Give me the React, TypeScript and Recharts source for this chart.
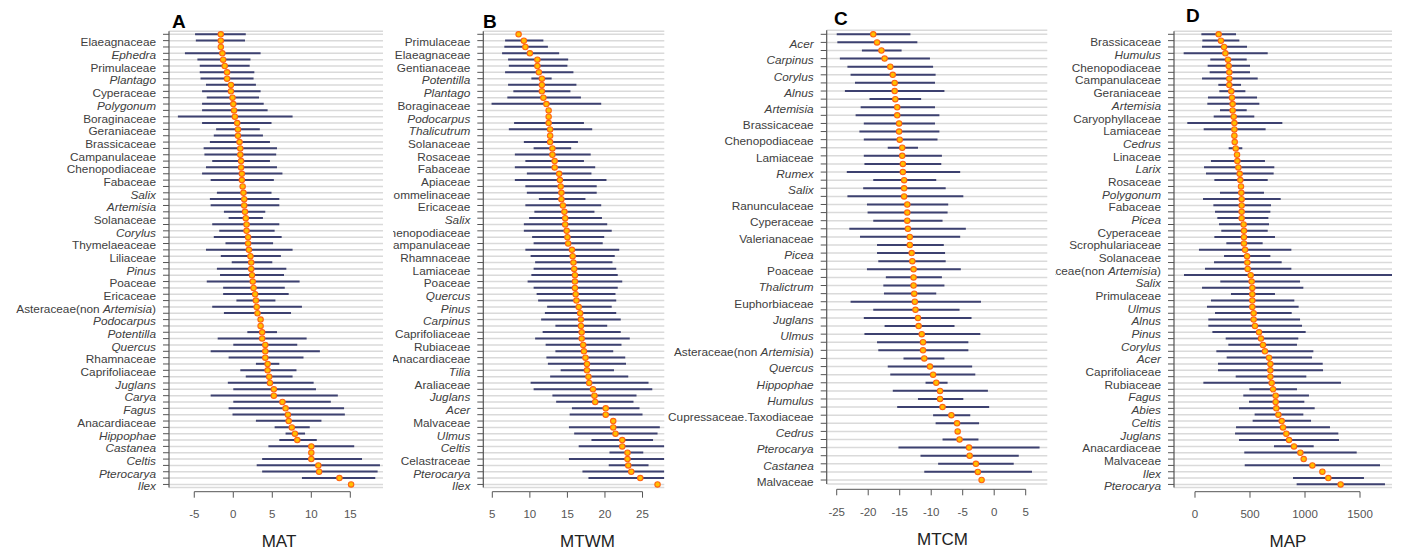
import { Bar, CartesianGrid, ComposedChart, Line, XAxis, YAxis } from 'recharts';

// Panel A: MAT
const A_NAMES = ['Elaeagnaceae', 'Ephedra', 'Primulaceae', 'Plantago', 'Cyperaceae', 'Polygonum', 'Boraginaceae', 'Geraniaceae', 'Brassicaceae', 'Campanulaceae', 'Chenopodiaceae', 'Fabaceae', 'Salix', 'Artemisia', 'Solanaceae', 'Corylus', 'Thymelaeaceae', 'Liliaceae', 'Pinus', 'Poaceae', 'Ericaceae', 'Asteraceae(non Artemisia)', 'Podocarpus', 'Potentilla', 'Quercus', 'Rhamnaceae', 'Caprifoliaceae', 'Juglans', 'Carya', 'Fagus', 'Anacardiaceae', 'Hippophae', 'Castanea', 'Celtis', 'Pterocarya', 'Ilex'];
const A_MEAN = [-1.6, -1.6, -1.6, -1.4, -1.3, -1.1, -0.8, -0.8, -0.3, -0.3, -0.1, 0.0, 0.1, 0.2, 0.5, 0.6, 0.6, 0.8, 0.9, 0.9, 1.0, 1.0, 1.1, 1.1, 1.2, 1.3, 1.4, 1.4, 1.5, 1.6, 1.7, 1.7, 1.9, 1.9, 2.0, 2.2, 2.3, 2.3, 2.4, 2.5, 2.6, 2.8, 2.9, 3.0, 3.1, 3.5, 3.5, 3.7, 3.7, 4.1, 4.1, 4.1, 4.4, 4.4, 4.6, 4.7, 5.2, 5.2, 6.3, 6.7, 7.0, 7.1, 7.5, 7.9, 8.2, 10.0, 10.0, 10.0, 10.9, 11.0, 13.6, 15.1];
const A_LOW = [-4.9, -4.8, null, -6.2, -4.6, -4.3, -4.3, -4.2, -3.5, -4.0, -3.4, -4.0, -4.0, -7.1, -4.0, -2.2, -2.5, -3.0, -3.8, -3.7, -2.7, -3.5, -4.0, -2.9, null, -2.1, -3.0, -2.9, -1.2, -0.6, -2.7, -1.8, -2.5, -1.0, -3.5, -1.6, -0.2, -2.1, -1.7, -3.4, -1.3, -1.3, 0.4, -2.7, -1.2, null, null, 1.8, -2.0, 0.0, -2.9, -0.6, 2.9, 0.9, 1.6, -0.7, 0.0, -2.9, 0.0, -0.6, -0.1, 2.9, 5.3, 6.7, 5.9, 4.5, null, 3.7, 3.0, 3.7, 8.8, null];
const A_HIGH = [1.6, 1.5, null, 3.5, 2.2, 2.1, 2.7, 2.6, 2.9, 3.5, 3.3, 3.9, 4.4, 7.6, 4.9, 3.4, 3.8, 4.7, 5.6, 5.5, 4.7, 5.6, 6.3, 5.2, null, 4.9, 5.9, 5.9, 4.1, 3.8, 5.9, 5.3, 6.2, 5.1, 7.6, 6.1, 5.0, 6.8, 6.5, 8.5, 6.6, 7.1, 5.4, 8.8, 7.4, null, null, 5.6, 9.4, 8.2, 11.1, 9.0, 5.9, 8.1, 7.6, 10.3, 10.6, 13.4, 12.5, 14.2, 14.3, 11.3, 9.8, 9.2, 10.7, 15.5, null, 16.5, 18.8, 18.5, 18.2, null];
const A_TICKS = [-5, 0, 5, 10, 15];

// Panel B: MTWM
const B_NAMES = ['Primulaceae', 'Elaeagnaceae', 'Gentianaceae', 'Potentilla', 'Plantago', 'Boraginaceae', 'Podocarpus', 'Thalicutrum', 'Solanaceae', 'Rosaceae', 'Fabaceae', 'Apiaceae', 'Commelinaceae', 'Ericaceae', 'Salix', 'Chenopodiaceae', 'Campanulaceae', 'Rhamnaceae', 'Lamiaceae', 'Poaceae', 'Quercus', 'Pinus', 'Carpinus', 'Caprifoliaceae', 'Rubiaceae', 'Anacardiaceae', 'Tilia', 'Araliaceae', 'Juglans', 'Acer', 'Malvaceae', 'Ulmus', 'Celtis', 'Celastraceae', 'Pterocarya', 'Ilex'];
const B_MEAN = [8.5, 9.2, 9.4, 10.0, 11.0, 11.0, 11.2, 11.6, 11.6, 11.6, 11.8, 12.2, 12.5, 12.5, 12.5, 12.7, 12.7, 12.7, 13.0, 13.0, 13.3, 13.3, 13.9, 14.0, 14.1, 14.2, 14.2, 14.4, 14.6, 14.7, 14.7, 14.9, 15.0, 15.1, 15.6, 15.7, 15.8, 15.9, 16.0, 16.0, 16.0, 16.1, 16.2, 16.5, 16.7, 16.8, 16.8, 16.9, 16.9, 17.1, 17.2, 17.4, 17.6, 17.6, 17.8, 17.9, 18.4, 18.6, 18.7, 20.1, 20.1, 21.1, 21.1, 21.4, 22.3, 22.3, 23.0, 23.0, 23.1, 23.5, 24.7, 27.0];
const B_LOW = [null, 6.7, 6.6, 6.3, 7.1, 7.2, 6.7, 10.2, 7.1, 7.8, 7.0, 4.9, null, null, 7.9, 7.2, null, 9.2, 10.5, 8.0, 9.4, 8.0, 9.6, 8.0, 9.4, 9.6, 11.2, 9.4, 10.6, 9.9, 9.2, 9.2, 10.3, 10.5, 9.4, 10.1, 10.7, 10.5, 10.2, 9.7, 10.5, 10.9, 11.1, 12.3, 12.0, 11.5, 13.4, 11.7, 10.7, 12.1, 13.4, 12.2, 12.4, 14.1, 12.7, 10.1, 10.5, 13.0, 13.5, 15.6, 15.3, null, 15.2, 15.9, 18.2, 16.5, 20.6, 15.2, 20.5, 17.0, 17.8, null];
const B_HIGH = [null, 11.8, 12.4, 13.9, 15.1, 15.0, 15.8, 12.9, 16.2, 15.4, 16.8, 19.5, null, null, 17.2, 18.3, null, 16.4, 15.5, 18.1, 17.2, 18.7, 18.2, 20.2, 18.9, 18.9, 17.4, 19.5, 18.6, 19.6, 20.3, 20.9, 19.9, 19.7, 21.9, 21.3, 21.0, 21.5, 21.7, 22.3, 21.7, 21.4, 21.5, 20.9, 21.5, 22.1, 20.3, 22.1, 23.3, 22.2, 21.1, 22.7, 22.8, 21.2, 23.1, 25.8, 26.3, 24.2, 23.8, 24.6, 25.0, null, 27.3, 27.0, 26.4, 28.5, 25.1, 28.5, 25.8, 28.5, 28.5, null];
const B_TICKS = [5, 10, 15, 20, 25];

// Panel C: MTCM
const C_NAMES = ['Acer', 'Carpinus', 'Corylus', 'Alnus', 'Artemisia', 'Brassicaceae', 'Chenopodiaceae', 'Lamiaceae', 'Rumex', 'Salix', 'Ranunculaceae', 'Cyperaceae', 'Valerianaceae', 'Picea', 'Poaceae', 'Thalictrum', 'Euphorbiaceae', 'Juglans', 'Ulmus', 'Asteraceae(non Artemisia)', 'Quercus', 'Hippophae', 'Humulus', 'Cupressaceae.Taxodiaceae', 'Cedrus', 'Pterocarya', 'Castanea', 'Malvaceae'];
const C_MEAN = [-19.2, -18.6, -17.9, -17.4, -16.5, -16.1, -15.8, -15.8, -15.7, -15.4, -15.4, -15.1, -15.1, -15.0, -14.6, -14.6, -14.5, -14.5, -14.3, -14.3, -14.3, -13.8, -13.8, -13.8, -13.7, -13.4, -13.4, -13.1, -13.0, -12.8, -12.8, -12.8, -12.7, -12.6, -12.5, -12.1, -12.0, -11.5, -11.3, -11.3, -11.1, -10.2, -9.7, -9.2, -8.6, -8.6, -8.2, -6.8, -5.9, -5.8, -5.5, -4.0, -3.9, -2.9, -2.6, -2.0];
const C_LOW = [-25.0, -24.9, -21.0, -24.5, -23.3, -22.8, -22.1, -23.7, -19.8, -21.2, -22.0, -20.7, -21.4, -20.7, -16.9, -20.7, -20.6, -23.4, -19.2, -20.8, -23.3, -20.2, -20.1, -19.2, -23.0, -21.3, -18.6, -18.6, -18.4, -20.2, -17.2, -17.6, -17.5, -22.8, -19.2, -20.7, -17.4, -20.6, -18.6, -18.4, -14.4, -16.9, -16.5, -10.9, -16.1, -12.1, -15.4, -9.7, -9.3, null, -8.2, -15.2, -11.7, -8.9, -11.1, null];
const C_HIGH = [-13.3, -12.2, -14.7, -10.2, -9.7, -9.3, -9.4, -7.9, -11.6, -9.4, -8.7, -9.4, -8.7, -9.0, -12.1, -8.3, -8.4, -5.4, -9.2, -7.7, -4.9, -7.3, -7.4, -8.2, -4.5, -5.4, -8.0, -7.8, -7.7, -5.3, -8.3, -7.9, -9.2, -2.1, -5.5, -3.6, -6.3, -2.2, -4.1, -4.1, -7.9, -3.5, -3.0, -7.4, -1.0, -4.9, -0.8, -3.8, -2.4, null, -2.5, 7.2, 3.9, 3.1, 6.0, null];
const C_TICKS = [-25, -20, -15, -10, -5, 0, 5];

// Panel D: MAP
const D_NAMES = ['Brassicaceae', 'Humulus', 'Chenopodiaceae', 'Campanulaceae', 'Geraniaceae', 'Artemisia', 'Caryophyllaceae', 'Lamiaceae', 'Cedrus', 'Linaceae', 'Larix', 'Rosaceae', 'Polygonum', 'Fabaceae', 'Picea', 'Cyperaceae', 'Scrophulariaceae', 'Solanaceae', 'Asteraceae(non Artemisia)', 'Salix', 'Primulaceae', 'Ulmus', 'Alnus', 'Pinus', 'Corylus', 'Acer', 'Caprifoliaceae', 'Rubiaceae', 'Fagus', 'Abies', 'Celtis', 'Juglans', 'Anacardiaceae', 'Malvaceae', 'Ilex', 'Pterocarya'];
const D_MEAN = [215, 236, 264, 276, 300, 306, 312, 312, 312, 330, 336, 342, 342, 352, 358, 358, 358, 361, 370, 382, 385, 394, 406, 412, 418, 421, 424, 424, 424, 424, 442, 445, 445, 445, 455, 473, 476, 479, 506, 515, 521, 521, 521, 521, 533, 533, 545, 582, 600, 618, 636, 673, 685, 685, 685, 697, 709, 733, 733, 739, 758, 788, 800, 830, 855, 900, 958, 988, 1067, 1158, 1212, 1324];
const D_LOW = [58, 67, 64, -103, 139, 115, 133, 64, 212, 221, 118, 112, 227, 170, -70, 79, null, null, 306, null, 145, 82, 100, 176, null, 227, 73, 167, 182, 203, 218, 239, 176, 285, 36, 264, 173, 91, -100, 230, 64, 327, 145, 109, 182, 121, 121, 158, 279, 303, 194, 288, 209, 209, 370, 76, 494, 439, 491, 400, 542, 524, 373, 364, 400, 718, 448, null, 452, null, 891, 924];
const D_HIGH = [373, 403, 473, 661, 470, 500, 500, 570, 418, 458, 564, 585, 470, 539, 794, 642, null, null, 430, null, 636, 721, 715, 661, null, 627, 779, 691, 685, 667, 673, 661, 727, 615, 876, 685, 788, 876, 1885, 955, 985, 727, 903, 942, 879, 955, 973, 1006, 939, 927, 1076, 1064, 1161, 1164, 1012, 1327, 927, 1036, 994, 1088, 985, 1055, 1227, 1303, 1309, 1079, 1470, null, 1682, null, 1536, 1727];
const D_TICKS = [0, 500, 1000, 1500];

const FONT = '"Liberation Sans", Arial, Helvetica, sans-serif';
const BAR = '#3d4170';
const DOT_FILL = '#ffc000';
const DOT_EDGE = '#ff6414';
const GRID = '#dadada';
const AXIS = '#555555';
const H = 554;

type Row = { row: number; name: string; mean: number; range: [number, number] | null };

function buildRows(names: string[], mean: number[], low: (number | null)[], high: (number | null)[]): Row[] {
  return mean.map((m, i) => {
    const lo = low[i];
    const hi = high[i];
    return {
      row: i,
      // R only had room to print every other name, starting from the bottom row
      name: (mean.length - 1 - i) % 2 === 0 ? names[(i - 1) / 2] ?? '' : '',
      mean: m,
      range: lo == null || hi == null ? null : [lo, hi],
    };
  });
}

type PanelCfg = {
  rows: Row[];
  left: number;
  width: number;
  plotLeft: number;
  plotRight: number;
  rowTop: number;
  rowGap: number;
  domain: [number, number];
  ticks: number[];
  axisY: number;
};

function taxonLabel(name: string) {
  const m = name.match(/^(.*\(non )(Artemisia)(\))$/);
  if (m) {
    return (
      <>
        <tspan>{m[1]}</tspan>
        <tspan fontStyle="italic">{m[2]}</tspan>
        <tspan>{m[3]}</tspan>
      </>
    );
  }
  // families end in -aceae, everything else is a genus
  return <tspan fontStyle={/aceae$/.test(name) ? 'normal' : 'italic'}>{name}</tspan>;
}

function Panel({ cfg }: { cfg: PanelCfg }) {
  const plotTop = cfg.rowTop - cfg.rowGap / 2;
  const plotH = cfg.rows.length * cfg.rowGap;
  const stepPx =
    ((cfg.ticks[1] - cfg.ticks[0]) * (cfg.plotRight - cfg.plotLeft)) / (cfg.domain[1] - cfg.domain[0]);
  const lastTick = cfg.ticks[cfg.ticks.length - 1];
  const [dMin, dMax] = cfg.domain;

  // the original figure clips the ranges at the plot edge
  const data = cfg.rows.map((r) => ({
    ...r,
    range: r.range ? [Math.max(r.range[0], dMin), Math.min(r.range[1], dMax)] : null,
  }));

  const nameTick = (p: any) => {
    const name = cfg.rows[p.payload.value]?.name;
    if (!name) return <g />;
    return (
      <text x={p.x} y={p.y} dy={5.8} textAnchor="end" fontSize={11.8} fill="#404040" fontFamily={FONT}>
        {taxonLabel(name)}
      </text>
    );
  };

  const valueTick = (p: any) => {
    const x = p.x;
    const y0 = cfg.axisY;
    return (
      <g>
        {p.payload.value !== lastTick ? (
          <line x1={x} x2={x + stepPx} y1={y0} y2={y0} stroke={AXIS} strokeWidth={1} />
        ) : null}
        <line x1={x} x2={x} y1={y0} y2={y0 + 6} stroke={AXIS} strokeWidth={1} />
        <text x={x} y={y0 + 26.5} textAnchor="middle" fontSize={11.5} fill="#555" fontFamily={FONT}>
          {p.payload.value}
        </text>
      </g>
    );
  };

  return (
    <div style={{ position: 'absolute', left: cfg.left, top: 0, width: cfg.width, height: H, overflow: 'hidden' }}>
      <ComposedChart
        width={cfg.width}
        height={H}
        layout="vertical"
        data={data}
        margin={{ top: plotTop, right: cfg.left + cfg.width - cfg.plotRight, bottom: 0, left: 0 }}
      >
        <CartesianGrid vertical={false} stroke={GRID} strokeWidth={1.5} />
        <XAxis
          type="number"
          domain={cfg.domain}
          allowDataOverflow
          ticks={cfg.ticks}
          interval={0}
          axisLine={false}
          tickLine={false}
          tickSize={0}
          tickMargin={0}
          height={H - plotTop - plotH}
          tick={valueTick}
        />
        <YAxis
          type="category"
          dataKey="row"
          interval={0}
          width={cfg.plotLeft - cfg.left}
          axisLine={{ stroke: AXIS, strokeWidth: 1.2 }}
          tickLine={{ stroke: AXIS }}
          tickSize={6}
          tickMargin={7}
          tick={nameTick}
        />
        <Bar dataKey="range" barSize={2} fill={BAR} isAnimationActive={false} />
        <Line
          dataKey="mean"
          stroke="none"
          dot={{ r: 2.7, fill: DOT_FILL, stroke: DOT_EDGE, strokeWidth: 1.1 }}
          activeDot={false}
          isAnimationActive={false}
        />
      </ComposedChart>
    </div>
  );
}

const PANELS: PanelCfg[] = [
  {
    rows: buildRows(A_NAMES, A_MEAN, A_LOW, A_HIGH),
    left: 0, width: 388, plotLeft: 169, plotRight: 383,
    rowTop: 34.3, rowGap: 6.34, domain: [-8.24, 19.19], ticks: A_TICKS, axisY: 491.7,
  },
  {
    rows: buildRows(B_NAMES, B_MEAN, B_LOW, B_HIGH),
    left: 393, width: 275, plotLeft: 483.3, plotRight: 664.3,
    rowTop: 34.3, rowGap: 6.34, domain: [3.8, 27.9], ticks: B_TICKS, axisY: 491.7,
  },
  {
    rows: buildRows(C_NAMES, C_MEAN, C_LOW, C_HIGH),
    left: 664, width: 388, plotLeft: 826.7, plotRight: 1047.3,
    rowTop: 34.3, rowGap: 8.104, domain: [-26.59, 8.43], ticks: C_TICKS, axisY: 489.3,
  },
  {
    rows: buildRows(D_NAMES, D_MEAN, D_LOW, D_HIGH),
    left: 1055, width: 347, plotLeft: 1174, plotRight: 1392,
    rowTop: 34.3, rowGap: 6.34, domain: [-190.9, 1790.9], ticks: D_TICKS, axisY: 491.7,
  },
];

const LETTERS = [
  { text: 'A', x: 172, y: 28.3 },
  { text: 'B', x: 483, y: 28.3 },
  { text: 'C', x: 834, y: 25 },
  { text: 'D', x: 1186, y: 21.7 },
];

const TITLES = [
  { text: 'MAT', x: 279, y: 547.3 },
  { text: 'MTWM', x: 587.5, y: 547.3 },
  { text: 'MTCM', x: 942.5, y: 545 },
  { text: 'MAP', x: 1288, y: 547.3 },
];

export default function App() {
  return (
    <div style={{ position: 'absolute', left: 0, top: 0, width: 1402, height: H, background: '#fff', fontFamily: FONT }}>
      {PANELS.map((cfg, i) => (
        <Panel key={i} cfg={cfg} />
      ))}
      <svg width={1402} height={H} style={{ position: 'absolute', left: 0, top: 0, pointerEvents: 'none' }}>
        {LETTERS.map((l) => (
          <text key={l.text} x={l.x} y={l.y} fontSize={19} fontWeight="bold" fill="#000" fontFamily={FONT}>
            {l.text}
          </text>
        ))}
        {TITLES.map((t) => (
          <text key={t.text} x={t.x} y={t.y} fontSize={17} textAnchor="middle" fill="#222" fontFamily={FONT}>
            {t.text}
          </text>
        ))}
      </svg>
    </div>
  );
}
